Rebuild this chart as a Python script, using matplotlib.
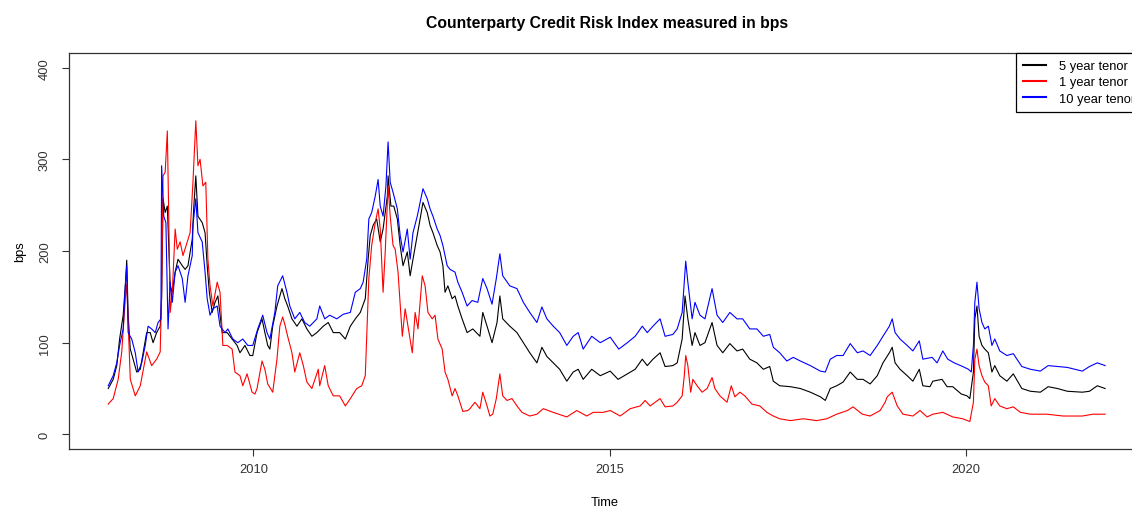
import matplotlib
matplotlib.use("Agg")
import matplotlib.pyplot as plt

plt.rcParams['font.family'] = ['Liberation Sans', 'DejaVu Sans']

# 5 year tenor (black)
t_5y = [2007.96, 2008.03, 2008.08, 2008.12, 2008.17, 2008.20, 2008.22, 2008.24, 2008.27, 2008.31,
        2008.36, 2008.41, 2008.45, 2008.50, 2008.55, 2008.59, 2008.64, 2008.69, 2008.71, 2008.73,
        2008.76, 2008.79, 2008.80, 2008.83, 2008.86, 2008.90, 2008.94, 2009.00, 2009.04, 2009.08,
        2009.14, 2009.16, 2009.19, 2009.22, 2009.28, 2009.32, 2009.35, 2009.38, 2009.42, 2009.46,
        2009.50, 2009.56, 2009.63, 2009.70, 2009.77, 2009.81, 2009.88, 2009.95, 2009.99, 2010.05,
        2010.12, 2010.16, 2010.20, 2010.23, 2010.27, 2010.33, 2010.40, 2010.44, 2010.48, 2010.54,
        2010.61, 2010.68, 2010.75, 2010.82, 2010.89, 2010.98, 2011.05, 2011.12, 2011.21, 2011.29,
        2011.36, 2011.43, 2011.50, 2011.57, 2011.61, 2011.64, 2011.68, 2011.73, 2011.78, 2011.82,
        2011.88, 2011.89, 2011.93, 2011.97, 2012.02, 2012.06, 2012.10, 2012.16, 2012.20, 2012.24,
        2012.30, 2012.34, 2012.38, 2012.44, 2012.48, 2012.52, 2012.58, 2012.62, 2012.66, 2012.69,
        2012.73, 2012.79, 2012.83, 2012.87, 2012.93, 2013.00, 2013.08, 2013.18, 2013.22, 2013.28,
        2013.35, 2013.42, 2013.46, 2013.50, 2013.60, 2013.70, 2013.79, 2013.88, 2013.98, 2014.05,
        2014.12, 2014.21, 2014.30, 2014.40, 2014.49, 2014.56, 2014.63, 2014.75, 2014.87, 2015.01,
        2015.12, 2015.25, 2015.36, 2015.46, 2015.53, 2015.61, 2015.71, 2015.78, 2015.89, 2015.95,
        2016.02, 2016.06, 2016.10, 2016.16, 2016.20, 2016.27, 2016.34, 2016.44, 2016.51, 2016.59,
        2016.69, 2016.79, 2016.87, 2016.97, 2017.07, 2017.16, 2017.25, 2017.30, 2017.39, 2017.54,
        2017.68, 2017.82, 2017.96, 2018.03, 2018.10, 2018.19, 2018.28, 2018.38, 2018.48, 2018.56,
        2018.66, 2018.76, 2018.84, 2018.93, 2018.97, 2019.01, 2019.08, 2019.18, 2019.26, 2019.35,
        2019.40, 2019.50, 2019.54, 2019.67, 2019.74, 2019.82, 2019.94, 2020.02, 2020.06, 2020.11,
        2020.13, 2020.16, 2020.19, 2020.23, 2020.27, 2020.32, 2020.37, 2020.41, 2020.48, 2020.58,
        2020.67, 2020.79, 2020.91, 2021.05, 2021.16, 2021.29, 2021.43, 2021.64, 2021.74, 2021.85,
        2021.96]
v_5y = [50, 60, 75, 104, 130, 162, 190, 130, 93, 82,
        68, 71, 89, 111, 111, 100, 111, 118, 148, 257,
        242, 249, 228, 162, 155, 177, 191, 184, 180, 184,
        213, 246, 282, 238, 231, 220, 184, 155, 133, 144,
        151, 111, 111, 104, 97, 89, 97, 86, 86, 111,
        126, 111, 97, 93, 118, 140, 159, 148, 140, 126,
        118, 126, 115, 107, 111, 118, 122, 111, 111, 104,
        118, 126, 133, 148, 191, 217, 228, 235, 210, 224,
        260, 282, 249, 249, 235, 206, 184, 199, 173, 191,
        217, 235, 253, 242, 228, 220, 206, 199, 184, 155,
        162, 148, 151, 140, 126, 111, 115, 107, 133, 118,
        100, 122, 151, 126, 118, 111, 100, 89, 78, 95,
        85, 78, 71, 58, 68, 71, 60, 71, 64, 69,
        60, 66, 71, 82, 75, 82, 89, 74, 75, 78,
        104, 151, 126, 97, 111, 97, 100, 122, 97, 89,
        99, 91, 93, 82, 78, 71, 74, 58, 53, 52,
        50, 46, 41, 37, 50, 53, 57, 68, 60, 60,
        55, 64, 78, 89, 95, 78, 71, 64, 58, 71,
        53, 52, 58, 60, 52, 52, 44, 42, 39, 68,
        126, 140, 107, 97, 93, 89, 68, 75, 64, 58,
        66, 50, 47, 46, 52, 50, 47, 46, 47, 53,
        50]

# 1 year tenor (red)
t_1y = [2007.96, 2008.03, 2008.10, 2008.15, 2008.20, 2008.22, 2008.27, 2008.34, 2008.41, 2008.50,
        2008.57, 2008.64, 2008.69, 2008.71, 2008.73, 2008.76, 2008.79, 2008.81, 2008.83, 2008.86,
        2008.90, 2008.93, 2008.97, 2009.01, 2009.07, 2009.11, 2009.15, 2009.19, 2009.22, 2009.25,
        2009.29, 2009.33, 2009.36, 2009.39, 2009.43, 2009.49, 2009.53, 2009.57, 2009.63, 2009.70,
        2009.74, 2009.81, 2009.85, 2009.91, 2009.98, 2010.02, 2010.05, 2010.12, 2010.16, 2010.20,
        2010.27, 2010.33, 2010.37, 2010.41, 2010.44, 2010.48, 2010.54, 2010.58, 2010.65, 2010.70,
        2010.75, 2010.82, 2010.91, 2010.93, 2011.00, 2011.05, 2011.12, 2011.21, 2011.29, 2011.36,
        2011.45, 2011.52, 2011.57, 2011.59, 2011.62, 2011.66, 2011.71, 2011.75, 2011.78, 2011.82,
        2011.85, 2011.89, 2011.92, 2011.96, 2011.99, 2012.03, 2012.09, 2012.13, 2012.17, 2012.23,
        2012.27, 2012.31, 2012.37, 2012.41, 2012.45, 2012.51, 2012.55, 2012.59, 2012.65, 2012.69,
        2012.73, 2012.79, 2012.83, 2012.87, 2012.94, 2013.01, 2013.04, 2013.11, 2013.18, 2013.22,
        2013.28, 2013.32, 2013.36, 2013.41, 2013.46, 2013.50, 2013.56, 2013.63, 2013.70, 2013.77,
        2013.88, 2013.98, 2014.07, 2014.21, 2014.40, 2014.54, 2014.68, 2014.77, 2014.91, 2015.01,
        2015.15, 2015.29, 2015.43, 2015.50, 2015.57, 2015.71, 2015.78, 2015.89, 2015.95, 2016.02,
        2016.05, 2016.07, 2016.10, 2016.14, 2016.17, 2016.23, 2016.30, 2016.37, 2016.44, 2016.48,
        2016.55, 2016.65, 2016.71, 2016.76, 2016.83, 2016.90, 2017.00, 2017.11, 2017.21, 2017.30,
        2017.39, 2017.54, 2017.72, 2017.91, 2018.05, 2018.19, 2018.34, 2018.42, 2018.55, 2018.66,
        2018.80, 2018.87, 2018.90, 2018.97, 2019.04, 2019.12, 2019.26, 2019.36, 2019.46, 2019.54,
        2019.68, 2019.82, 2019.96, 2020.06, 2020.11, 2020.13, 2020.16, 2020.19, 2020.23, 2020.27,
        2020.32, 2020.36, 2020.41, 2020.48, 2020.58, 2020.67, 2020.77, 2020.91, 2021.14, 2021.37,
        2021.64, 2021.79, 2021.96]
v_1y = [33, 39, 60, 90, 148, 164, 60, 42, 53, 90,
        75, 82, 90, 155, 282, 286, 331, 238, 133, 155,
        224, 202, 210, 195, 210, 220, 275, 342, 293, 300,
        271, 275, 191, 162, 140, 166, 155, 97, 97, 93,
        68, 64, 53, 66, 46, 44, 50, 80, 71, 55,
        46, 82, 118, 128, 120, 107, 89, 68, 89, 75,
        57, 50, 71, 53, 75, 53, 42, 42, 31, 39,
        50, 53, 64, 107, 170, 206, 231, 246, 224, 155,
        199, 271, 238, 206, 202, 177, 107, 137, 118, 89,
        133, 115, 173, 162, 133, 126, 130, 104, 93, 68,
        60, 42, 50, 42, 25, 26, 28, 35, 28, 46,
        31, 20, 22, 39, 66, 42, 37, 39, 31, 24,
        20, 22, 28, 24, 19, 26, 20, 24, 24, 26,
        20, 28, 31, 37, 31, 39, 30, 31, 35, 42,
        64, 86, 75, 46, 60, 53, 46, 50, 62, 50,
        42, 35, 53, 41, 46, 42, 33, 31, 24, 20,
        17, 15, 17, 15, 17, 22, 26, 30, 22, 20,
        26, 35, 41, 46, 31, 22, 20, 26, 19, 22,
        24, 19, 17, 14, 35, 82, 93, 75, 64, 57,
        53, 31, 39, 31, 28, 30, 24, 22, 22, 20,
        20, 22, 22]

# 10 year tenor (blue)
t_10y = [2007.96, 2008.03, 2008.08, 2008.12, 2008.17, 2008.20, 2008.22, 2008.24, 2008.29, 2008.34,
         2008.38, 2008.43, 2008.48, 2008.52, 2008.57, 2008.62, 2008.66, 2008.70, 2008.71, 2008.74,
         2008.77, 2008.80, 2008.83, 2008.86, 2008.90, 2008.94, 2009.00, 2009.04, 2009.08, 2009.14,
         2009.15, 2009.19, 2009.22, 2009.28, 2009.32, 2009.35, 2009.39, 2009.43, 2009.49, 2009.53,
         2009.60, 2009.64, 2009.71, 2009.78, 2009.85, 2009.92, 2009.99, 2010.06, 2010.13, 2010.19,
         2010.23, 2010.30, 2010.34, 2010.41, 2010.47, 2010.51, 2010.58, 2010.65, 2010.72, 2010.79,
         2010.89, 2010.93, 2011.00, 2011.07, 2011.17, 2011.26, 2011.36, 2011.43, 2011.50, 2011.54,
         2011.59, 2011.62, 2011.66, 2011.71, 2011.75, 2011.78, 2011.82, 2011.86, 2011.89, 2011.92,
         2011.96, 2012.02, 2012.06, 2012.10, 2012.16, 2012.20, 2012.24, 2012.30, 2012.34, 2012.38,
         2012.44, 2012.48, 2012.52, 2012.58, 2012.62, 2012.66, 2012.72, 2012.76, 2012.83, 2012.87,
         2012.93, 2013.00, 2013.07, 2013.15, 2013.22, 2013.28, 2013.35, 2013.41, 2013.46, 2013.50,
         2013.60, 2013.70, 2013.79, 2013.88, 2013.98, 2014.05, 2014.12, 2014.21, 2014.30, 2014.40,
         2014.49, 2014.56, 2014.63, 2014.75, 2014.87, 2015.01, 2015.13, 2015.25, 2015.36, 2015.46,
         2015.53, 2015.61, 2015.71, 2015.78, 2015.89, 2015.95, 2016.02, 2016.07, 2016.10, 2016.16,
         2016.20, 2016.27, 2016.34, 2016.44, 2016.51, 2016.59, 2016.69, 2016.79, 2016.87, 2016.97,
         2017.07, 2017.16, 2017.25, 2017.30, 2017.39, 2017.49, 2017.58, 2017.68, 2017.82, 2017.96,
         2018.03, 2018.10, 2018.19, 2018.28, 2018.38, 2018.48, 2018.56, 2018.66, 2018.76, 2018.84,
         2018.93, 2018.97, 2019.01, 2019.08, 2019.18, 2019.26, 2019.35, 2019.40, 2019.53, 2019.60,
         2019.68, 2019.75, 2019.84, 2019.96, 2020.04, 2020.08, 2020.11, 2020.13, 2020.16, 2020.19,
         2020.23, 2020.27, 2020.32, 2020.37, 2020.41, 2020.48, 2020.58, 2020.67, 2020.79, 2020.91,
         2021.05, 2021.16, 2021.29, 2021.43, 2021.64, 2021.74, 2021.85, 2021.96]
v_10y = [53, 64, 78, 97, 115, 162, 184, 111, 104, 89,
         68, 78, 97, 118, 115, 111, 122, 126, 293, 238,
         231, 115, 166, 144, 177, 184, 170, 144, 173, 195,
         228, 257, 220, 210, 177, 148, 130, 137, 140, 118,
         111, 115, 104, 100, 104, 97, 97, 115, 130, 111,
         104, 133, 162, 173, 155, 140, 126, 133, 122, 118,
         126, 140, 126, 130, 126, 131, 133, 155, 159, 166,
         191, 235, 242, 260, 278, 249, 238, 271, 319, 275,
         264, 246, 217, 199, 224, 191, 220, 238, 253, 268,
         257, 246, 238, 224, 217, 206, 184, 180, 177, 166,
         155, 140, 146, 144, 170, 159, 142, 170, 197, 173,
         162, 159, 144, 133, 122, 139, 126, 118, 111, 97,
         107, 111, 93, 107, 100, 106, 93, 100, 107, 118,
         111, 118, 126, 107, 109, 115, 133, 189, 166, 126,
         144, 130, 126, 159, 130, 122, 133, 126, 126, 115,
         115, 107, 109, 95, 89, 80, 84, 80, 75, 69,
         68, 82, 86, 86, 99, 89, 91, 86, 97, 107,
         118, 126, 111, 104, 97, 91, 102, 82, 84, 78,
         91, 82, 78, 74, 71, 68, 97, 144, 166, 137,
         122, 115, 118, 97, 104, 91, 86, 88, 74, 71,
         69, 75, 74, 73, 69, 74, 78, 75]

series_labels = ['5 year tenor', '1 year tenor', '10 year tenor']
series_colors = ['black', 'red', 'blue']

fig = plt.figure(figsize=(11.32, 5.10), dpi=100)
# plot region runs past the right edge of the picture, as in the reference crop
ax = fig.add_axes([0.061, 0.1176, 0.9505, 0.7765])

ax.plot(t_5y, v_5y, color=series_colors[0], lw=0.8, label=series_labels[0])
ax.plot(t_1y, v_1y, color=series_colors[1], lw=0.8, label=series_labels[1])
ax.plot(t_10y, v_10y, color=series_colors[2], lw=0.8, label=series_labels[2])

ax.set_xlim(2007.41, 2022.52)
ax.set_ylim(-16, 416)
ax.set_xticks([2010, 2015, 2020])
ax.set_yticks([0, 100, 200, 300, 400])
ax.tick_params(axis='x', length=5, width=0.8, pad=5, labelsize=9.3, colors='#333333')
ax.tick_params(axis='y', length=5, width=0.8, pad=8, labelsize=9.3, colors='#333333',
               labelrotation=90)
for lab in ax.get_yticklabels():
    lab.set_va('center')
for sp in ax.spines.values():
    sp.set_color('#333333')
    sp.set_linewidth(0.9)

ax.set_xlabel('Time', fontsize=9.3)
ax.xaxis.set_label_coords(0.498, -0.133)
ax.xaxis.label.set_va('center')
ax.set_ylabel('bps', fontsize=9.3)
ax.yaxis.set_label_coords(-0.045, 0.5)
ax.yaxis.label.set_va('center')

ax.set_title('Counterparty Credit Risk Index measured in bps', fontsize=11.3,
             fontweight='bold', y=1.055, va='center')

leg = ax.legend(loc='upper left', bbox_to_anchor=(0.880, 1.0), fontsize=9.3,
                frameon=True, fancybox=False, edgecolor='black', framealpha=1,
                borderaxespad=0, borderpad=0.55, handlelength=1.8,
                handletextpad=1.0, labelspacing=0.32)
leg.get_frame().set_linewidth(0.9)
for line in leg.get_lines():
    line.set_linewidth(1.5)

fig.savefig('out.png', dpi=100)
